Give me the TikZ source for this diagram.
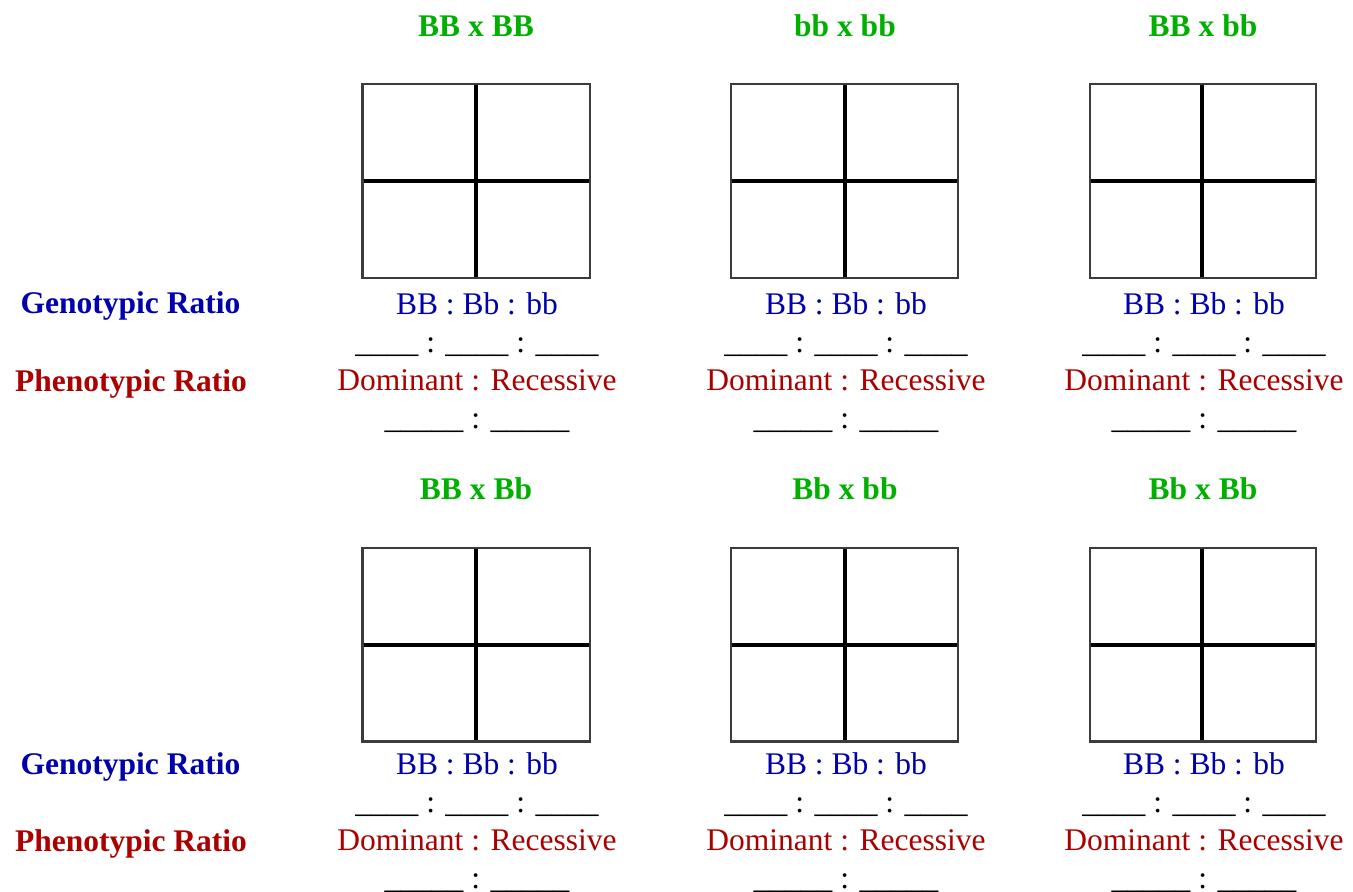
\documentclass[tikz,border=0pt]{standalone}
\usepackage{fontspec}
\setmainfont{Liberation Serif}
\definecolor{tgreen}{RGB}{0,176,0}
\definecolor{tblue}{RGB}{0,0,170}
\definecolor{tred}{RGB}{170,0,0}
\definecolor{bordergray}{RGB}{60,60,60}
\begin{document}
\begin{tikzpicture}[x=1pt,y=-1pt,
  txt/.style={anchor=base,inner sep=0pt,font=\fontsize{31.5}{38}\selectfont},
  title/.style={txt,text=tgreen,font=\fontsize{31.5}{38}\selectfont\bfseries},
  geno/.style={txt,text=tblue},
  pheno/.style={txt,text=tred},
  blank/.style={txt,text=black},
  outer/.style={draw=bordergray,line width=2.2pt},
  inner/.style={draw=black,line width=3.4pt}]
\useasboundingbox (0,0) rectangle (1353,892);
% left labels
\node[geno,font=\fontsize{31.5}{38}\selectfont\bfseries] (g1) at (130.5,313) {Genotypic Ratio};
\node[pheno,font=\fontsize{31.5}{38}\selectfont\bfseries] (p1) at (131,391) {Phenotypic Ratio};
\node[geno,font=\fontsize{31.5}{38}\selectfont\bfseries] (g2) at (130.5,774) {Genotypic Ratio};
\node[pheno,font=\fontsize{31.5}{38}\selectfont\bfseries] (p2) at (131,851) {Phenotypic Ratio};
% grids
\foreach \r/\gt/\gb/\gm/\tb/\off in {1/84/278/181/36/0, 2/548/741.5/645/499/460}{
  \foreach \c/\L/\R/\M/\T in {1/362.5/590/476/476, 2/731/958/845/845, 3/1090/1316/1202/1203}{
    \draw[inner] (\L,\gm) -- (\R,\gm);
    \draw[inner] (\M,\gt) -- (\M,\gb);
    \draw[outer] (\L,\gt) rectangle (\R,\gb);
    \node[geno] (gr\r\c) at (\T+1,314+\off) {BB : Bb : bb};
    \node[blank] (gb\r\c) at (\T+1,352+\off) {\_\_\_\_ : \_\_\_\_ : \_\_\_\_};
    \node[pheno] (pr\r\c) at (\T+1,390+\off) {Dominant : Recessive};
    \node[blank] (pb\r\c) at (\T+1,428+\off) {\_\_\_\_\_ : \_\_\_\_\_};
  }
}
% titles
\node[title] (t11) at (476,36) {BB x BB};
\node[title] (t12) at (845,36) {bb x bb};
\node[title] (t13) at (1203,36) {BB x bb};
\node[title] (t21) at (476,499) {BB x Bb};
\node[title] (t22) at (845,499) {Bb x bb};
\node[title] (t23) at (1203,499) {Bb x Bb};
\end{tikzpicture}
\end{document}
